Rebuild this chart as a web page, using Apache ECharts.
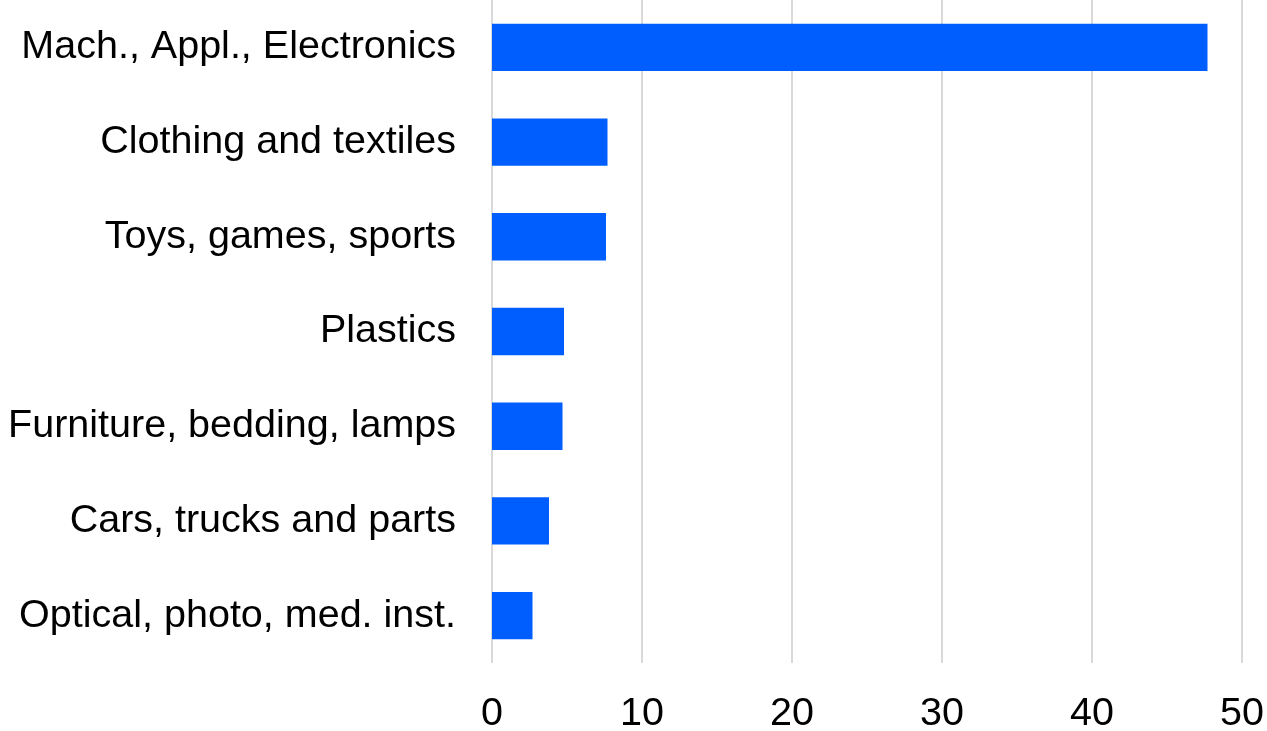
<!DOCTYPE html>
<html>
<head>
<meta charset="utf-8">
<style>
  html, body { margin: 0; padding: 0; background: #ffffff; }
  #chart { width: 1267px; height: 731px; }
</style>
<script src="https://cdn.jsdelivr.net/npm/echarts@6/dist/echarts.min.js"></script>
</head>
<body>
<div id="chart"></div>
<script>
// Product groups, listed top to bottom
const categories = [
  'Mach., Appl., Electronics',
  'Clothing and textiles',
  'Toys, games, sports',
  'Plastics',
  'Furniture, bedding, lamps',
  'Cars, trucks and parts',
  'Optical, photo, med. inst.'
];
// Share of imports per group
const values = [47.7, 7.7, 7.6, 4.8, 4.7, 3.8, 2.7];
const xTicks = [0, 10, 20, 30, 40, 50];

const font = '"Liberation Sans", Arial, sans-serif';
const chart = echarts.init(document.getElementById('chart'), null, { renderer: 'canvas' });

chart.setOption({
  animation: false,
  backgroundColor: '#ffffff',
  grid: { left: 492, right: 25, top: 0, bottom: 68, containLabel: false, outerBoundsMode: 'none' },
  xAxis: {
    type: 'value',
    min: xTicks[0],
    max: xTicks[xTicks.length - 1],
    interval: xTicks[1] - xTicks[0],
    axisLine: { show: false },
    axisTick: { show: false },
    splitLine: { show: true, lineStyle: { color: '#d9d9d9', width: 2 } },
    axisLabel: { color: '#000000', fontSize: 39.5, fontFamily: font, margin: 31 }
  },
  yAxis: {
    type: 'category',
    inverse: true,
    data: categories,
    axisLine: { show: false },
    axisTick: { show: false },
    splitLine: { show: false },
    axisLabel: { color: '#000000', fontSize: 39.5, fontFamily: font, margin: 36, padding: [8, 0, 0, 0] }
  },
  series: [{
    type: 'bar',
    data: values,
    barWidth: '50%',
    itemStyle: { color: '#005eff' }
  }]
});
</script>
</body>
</html>
